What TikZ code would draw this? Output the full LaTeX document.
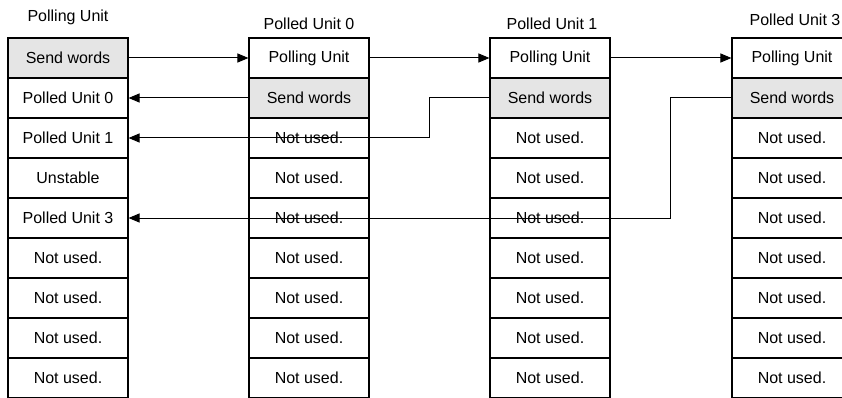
\documentclass[tikz,border=0pt]{standalone}
\usepackage{fontspec}
\setmainfont{Liberation Sans}
\usetikzlibrary{arrows.meta}

\begin{document}
\begin{tikzpicture}[x=1pt, y=-1pt, font=\fontsize{16}{18}\selectfont,
  cell/.style={draw, line width=1.1pt, minimum width=120pt, minimum height=40pt, inner sep=0pt},
  sent/.style={cell, fill=black!10},
  title/.style={inner sep=0pt},
  link/.style={line width=1pt, -{Triangle[length=11pt,width=9pt]}}]
  \useasboundingbox (0,0) rectangle (842,398);
  \clip (0,0) rectangle (842,397.2);
  % titles
  \node[title] (pu) at (68,17) {Polling Unit};
  \node[title] (pd0) at (309,24) {Polled Unit 0};
  \node[title] (pd1) at (552,24) {Polled Unit 1};
  \node[title] (pd3) at (795,20) {Polled Unit 3};
  % polling unit
  \foreach \t/\f [count=\i from 0] in {Send words/black!10, Polled Unit 0/white, Polled Unit 1/white, Unstable/white, Polled Unit 3/white, Not used./white, Not used./white, Not used./white, Not used./white}
    \node[cell, fill=\f] (pu-\i) at (68,58+40*\i) {\t};
  % polled units
  \foreach \n/\x in {pd0/309, pd1/550, pd3/792} {
    \node[cell] (\n-0) at (\x,58) {Polling Unit};
    \node[sent] (\n-1) at (\x,98) {Send words};
    \foreach \i in {2,...,8}
      \node[cell] (\n-\i) at (\x,58+40*\i) {Not used.};
  }
  % words passed on
  \draw[link] (pu-0) -- (pd0-0);
  \draw[link] (pd0-0) -- (pd1-0);
  \draw[link] (pd1-0) -- (pd3-0);
  % answers
  \draw[link] (pd0-1) -- (pu-1);
  \draw[link] (pd1-1.west) -- ++(-60,0) |- (pu-2.east);
  \draw[link] (pd3-1.west) -- ++(-61,0) |- (pu-4.east);
\end{tikzpicture}
\end{document}
